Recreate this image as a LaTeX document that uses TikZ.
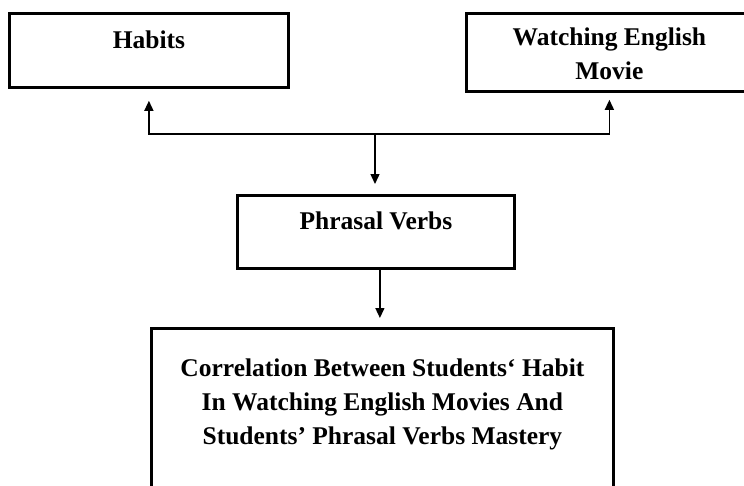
\documentclass[tikz,border=0pt]{standalone}
\usepackage{fontspec}
\setmainfont{Liberation Serif}
\usetikzlibrary{arrows.meta}

\begin{document}
\begin{tikzpicture}[x=1pt,y=1pt,
		box/.style={draw,line width=2.8pt,anchor=north west,inner xsep=0pt,inner ysep=0pt,align=center,
			font=\fontsize{25.5}{34}\selectfont\bfseries},
		conn/.style={line width=1.4pt,-{Triangle[length=10pt,width=9pt]}}]
		\useasboundingbox (0,0) rectangle (744,-485);
		\clip (0,0) rectangle (744,-485);
		\node[box,minimum width=279pt,text height=35pt,text depth=39pt] (habits) at (8,-12) {Habits};
		\node[box,minimum width=286pt,text height=66pt,text depth=12pt] (watching) at (465,-12) {Watching English\\Movie};
		\node[box,minimum width=277pt,text height=34pt,text depth=39pt] (phrasal) at (236,-194) {Phrasal Verbs};
		\node[box,minimum width=462pt,text height=116pt,text depth=57pt] (mastery) at (150,-327)
			{Correlation Between Students‘ Habit\\In Watching English Movies And\\Students’ Phrasal Verbs Mastery};
		\coordinate (split) at (375,-134);
		\draw[conn,shorten >=12pt] (split) -| (habits.south);
		\draw[conn,shorten >=7pt] (split) -| (watching.south);
		\draw[conn,shorten >=10pt] (split) -- (split |- phrasal.north);
		\draw[conn,shorten >=9pt] ([xshift=4pt]phrasal.south) -- ([xshift=4pt]phrasal.south |- mastery.north);
	\end{tikzpicture}
\end{document}
